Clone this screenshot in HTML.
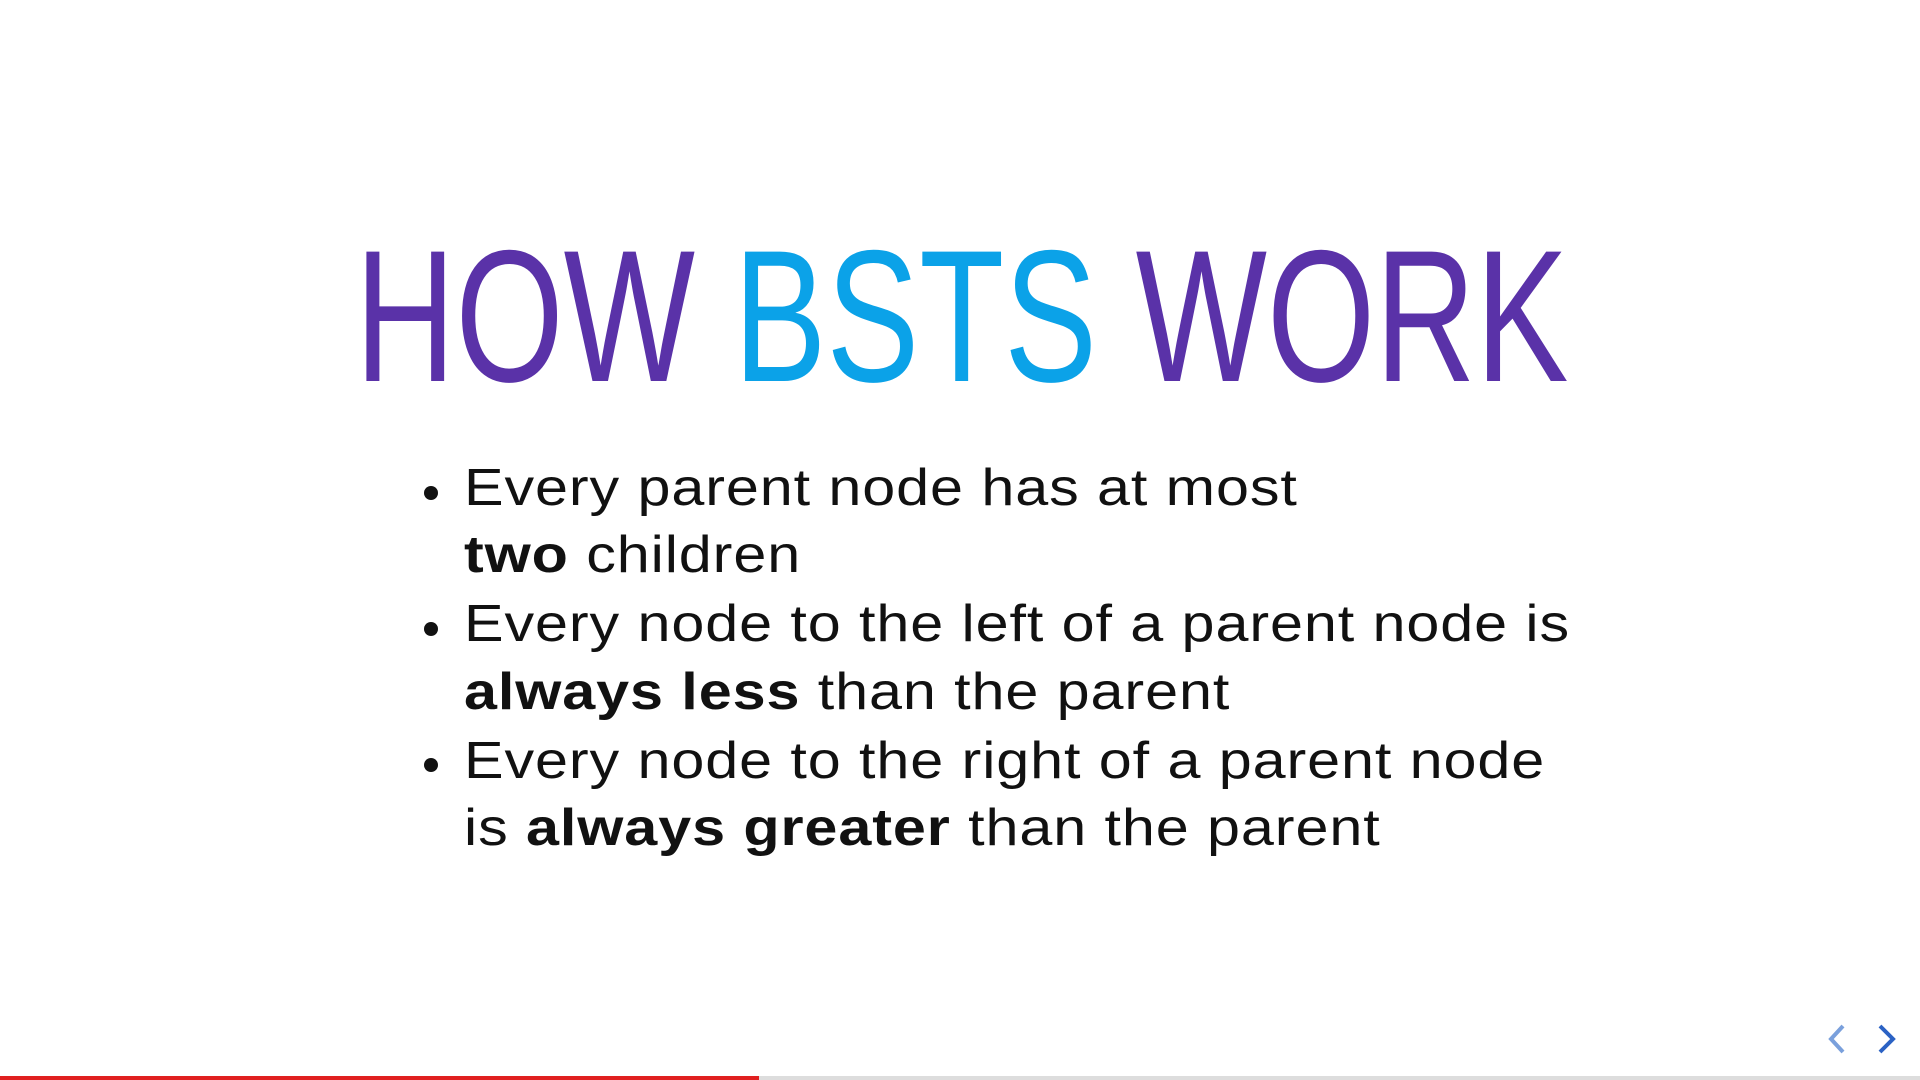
<!DOCTYPE html>
<html><head><meta charset="utf-8"><style>
html,body{margin:0;padding:0;width:1920px;height:1080px;overflow:hidden;background:#fff}
.t{position:absolute;white-space:nowrap;font-family:"Liberation Sans",sans-serif}
#title{left:355px;top:196px;font-size:188px;line-height:240px;transform:scaleX(0.74);transform-origin:0 0;color:#5a32a8}
#title .b{color:#0ba2e8}
.l{position:absolute;left:464px;font-family:"Liberation Sans",sans-serif;font-size:52px;line-height:60px;color:#111;white-space:nowrap;letter-spacing:0.8px;transform:scaleX(1.14);transform-origin:0 0}
.dot{position:absolute;left:424px;width:14px;height:14px;border-radius:50%;background:#111}
</style></head><body>
<div style="position:absolute;left:0;top:0;width:1920px;height:1080px">
<div id="title" class="t">HOW <span class="b">BSTS</span> WORK</div>
<div class="dot" style="top:486px"></div>
<div class="l" style="top:458px">Every parent node has at most</div>
<div class="l" style="top:525px"><b>two</b> children</div>
<div class="dot" style="top:622px"></div>
<div class="l" style="top:594px">Every node to the left of a parent node is</div>
<div class="l" style="top:662px"><b>always less</b> than the parent</div>
<div class="dot" style="top:758px"></div>
<div class="l" style="top:731px">Every node to the right of a parent node</div>
<div class="l" style="top:798px">is <b>always greater</b> than the parent</div>
<svg style="position:absolute;left:1815px;top:1020px" width="100" height="45">
<polyline points="28,6 16,19 28,32" fill="none" stroke="#7aa0dc" stroke-width="4"/>
<polyline points="65,6 78,19 65,32" fill="none" stroke="#2b62c4" stroke-width="4"/>
</svg>
<div style="position:absolute;left:0;top:1076px;width:1920px;height:4px;background:#ddd"></div>
<div style="position:absolute;left:0;top:1076px;width:759px;height:4px;background:#e02020"></div>
</div>
</body></html>
